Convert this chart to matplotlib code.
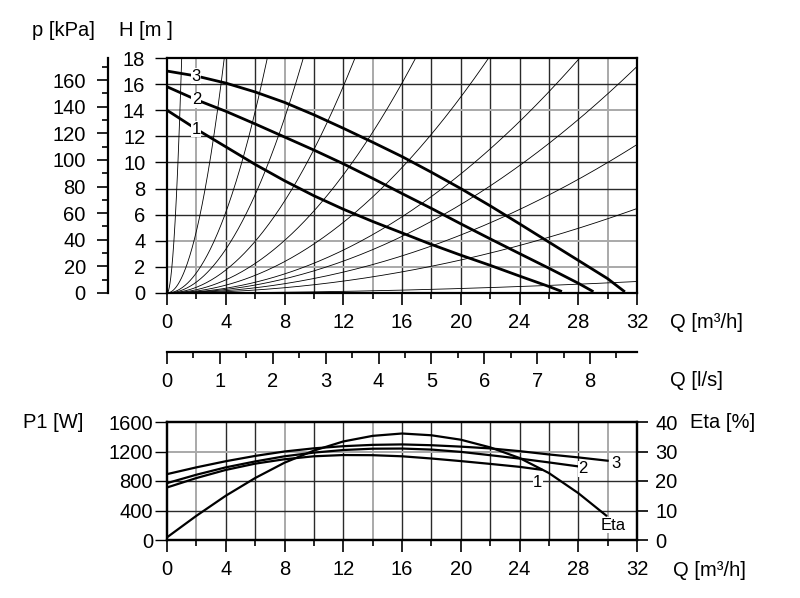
import matplotlib
matplotlib.use("Agg")
import matplotlib.pyplot as plt
from matplotlib.ticker import MultipleLocator
import numpy as np

plt.rcParams['font.family'] = ['Liberation Sans', 'DejaVu Sans']
plt.rcParams['font.size'] = 14.5

# pump curves H [m] over Q [m3/h], speeds 1, 2, 3
q1 = [0, 2, 4, 6, 8, 10, 12, 14, 16, 18, 20, 22, 24, 26, 26.8]
h1 = [14.0, 12.55, 11.2, 9.85, 8.6, 7.45, 6.42, 5.48, 4.6, 3.72, 2.9, 2.12, 1.3, 0.5, 0.15]
q2 = [0, 2, 4, 6, 8, 10, 12, 14, 16, 18, 20, 22, 24, 26, 28, 28.95]
h2 = [15.8, 14.8, 13.92, 12.95, 11.95, 10.95, 9.9, 8.78, 7.62, 6.48, 5.3, 4.15, 3.02, 1.9, 0.75, 0.15]
q3 = [0, 2, 4, 6, 8, 10, 12, 14, 16, 18, 20, 22, 24, 26, 28, 30, 31.1]
h3 = [17.0, 16.62, 16.08, 15.4, 14.6, 13.65, 12.62, 11.55, 10.45, 9.25, 8.0, 6.68, 5.3, 3.9, 2.5, 1.1, 0.15]

# system parabolas through the origin, given by where they leave the frame
sys_q_end = [1.0, 3.9, 6.83, 9.28, 12.8, 16.93, 21.9, 28.1, 32, 32, 32, 32]
sys_h_end = [18, 18, 18, 18, 18, 18, 18, 18, 17.35, 11.37, 6.47, 0.88]

# power input P1 [W]
pq1 = [0, 2, 4, 6, 8, 10, 12, 14, 16, 18, 20, 22, 24, 25.5]
p1 = [712, 840, 950, 1035, 1095, 1135, 1152, 1150, 1135, 1105, 1070, 1032, 992, 952]
pq2 = [0, 2, 4, 6, 8, 10, 12, 14, 16, 18, 20, 22, 24, 26, 28]
p2 = [771, 885, 985, 1065, 1135, 1185, 1220, 1238, 1240, 1226, 1195, 1150, 1104, 1052, 998]
pq3 = [0, 2, 4, 6, 8, 10, 12, 14, 16, 18, 20, 22, 24, 26, 28, 30]
p3 = [893, 985, 1068, 1140, 1200, 1243, 1272, 1290, 1296, 1285, 1266, 1242, 1205, 1160, 1120, 1075]

# efficiency Eta [%]
eq = [0, 2, 4, 6, 8, 10, 12, 14, 16, 18, 20, 22, 24, 26, 28, 29.9]
eta = [0.9, 8.2, 15.0, 21.0, 26.2, 30.3, 33.4, 35.3, 36.1, 35.5, 34.0, 31.4, 27.8, 22.7, 15.9, 8.3]

light_v = [2, 8, 14, 30]
light_h_top = [2, 4, 14]
light_h_bot = [1200]

W, H = 800, 598
def box(l, t, r, b):
    return [l / W, 1 - b / H, (r - l) / W, (b - t) / H]

dark = '#2a2a2a'
light = '#a9a9a9'

fig = plt.figure(figsize=(8, 5.98), dpi=100)

# ---- top panel: H-Q
ax = fig.add_axes(box(167, 58, 637, 293))
ax.set_xlim(0, 32)
ax.set_ylim(0, 18)
for q in range(2, 32, 2):
    c = light if q in light_v else dark
    ax.axvline(q, color=c, lw=1.0 if c == dark else 1.4, zorder=1)
for h in range(2, 18, 2):
    c = light if h in light_h_top else dark
    ax.axhline(h, color=c, lw=1.0 if c == dark else 1.4, zorder=1)

for qe, he in zip(sys_q_end, sys_h_end):
    qq = np.linspace(0, qe, 200)
    ax.plot(qq, he * (qq / qe) ** 2, color='black', lw=0.6, zorder=2)

for qs, hs in [(q1, h1), (q2, h2), (q3, h3)]:
    ax.plot(qs, hs, color='black', lw=2.0, zorder=3, solid_joinstyle='round')

for lab, hv in [('1', 12.55, ), ('2', 14.8), ('3', 16.62)]:
    ax.text(2, hv, lab, ha='center', va='center', fontsize=12, zorder=4,
            bbox=dict(facecolor='white', edgecolor='none', pad=0.3))

ax.xaxis.set_major_locator(MultipleLocator(4))
ax.xaxis.set_minor_locator(MultipleLocator(2))
ax.yaxis.set_major_locator(MultipleLocator(2))
ax.tick_params(axis='x', which='major', length=8.6, width=1.2, pad=6)
ax.tick_params(axis='x', which='minor', length=4.3, width=1.2)
ax.tick_params(axis='y', which='major', length=8.6, width=1.0, pad=7)
for s in ax.spines.values():
    s.set_linewidth(1.6)

sec_p = ax.secondary_yaxis(-59 / 470, functions=(lambda h: h * 9.81, lambda p: p / 9.81))
sec_p.yaxis.set_major_locator(MultipleLocator(20))
sec_p.yaxis.set_minor_locator(MultipleLocator(10))
sec_p.tick_params(which='major', length=8, width=1.2, pad=8)
sec_p.tick_params(which='minor', length=4, width=1.2)
sec_p.spines['left'].set_linewidth(1.6)

sec_q = ax.secondary_xaxis(-59 / 235, functions=(lambda q: q / 3.6, lambda l: l * 3.6))
sec_q.xaxis.set_major_locator(MultipleLocator(1))
sec_q.xaxis.set_minor_locator(MultipleLocator(0.5))
sec_q.tick_params(which='major', length=8.6, width=1.2, pad=6)
sec_q.tick_params(which='minor', length=4.3, width=1.2)
sec_q.spines['bottom'].set_linewidth(1.6)

# ---- bottom panel: P1 and Eta
axb = fig.add_axes(box(167, 422, 637, 540))
axb.set_xlim(0, 32)
axb.set_ylim(0, 1600)
for q in range(2, 32, 2):
    c = light if q in light_v else dark
    axb.axvline(q, color=c, lw=1.0 if c == dark else 1.4, zorder=1)
for p in [400, 800, 1200]:
    c = light if p in light_h_bot else dark
    axb.axhline(p, color=c, lw=1.0 if c == dark else 1.4, zorder=1)

for qs, ps in [(pq1, p1), (pq2, p2), (pq3, p3)]:
    axb.plot(qs, ps, color='black', lw=1.6, zorder=3, solid_joinstyle='round')

axb.xaxis.set_major_locator(MultipleLocator(4))
axb.xaxis.set_minor_locator(MultipleLocator(2))
axb.yaxis.set_major_locator(MultipleLocator(400))
axb.tick_params(axis='x', which='major', length=8.6, width=1.2, pad=6)
axb.tick_params(axis='x', which='minor', length=4.3, width=1.2)
axb.tick_params(axis='y', which='major', length=8.6, width=1.0, pad=1.5)
for s in axb.spines.values():
    s.set_linewidth(1.6)

axe = axb.twinx()
axe.set_ylim(0, 40)
axe.plot(eq, eta, color='black', lw=1.6, zorder=3, solid_joinstyle='round')
axe.yaxis.set_major_locator(MultipleLocator(10))
axe.tick_params(axis='y', length=8, width=1.2, pad=5)
for s in axe.spines.values():
    s.set_linewidth(1.6)

for lab, qv, pv in [('1', 25.25, 786), ('2', 28.3, 963), ('3', 30.6, 1044), ('Eta', 30.4, 203)]:
    axb.text(qv, pv, lab, ha='center', va='center', fontsize=12, zorder=4,
             bbox=dict(facecolor='white', edgecolor='none', pad=0.2))

# ---- axis titles
def ftext(x, y, s, ha='left', **kw):
    fig.text(x / W, 1 - y / H, s, ha=ha, va='center', **kw)

ftext(63, 31, 'p [kPa]', ha='center')
ftext(146, 31, 'H [m ]', ha='center')
ftext(670, 322, 'Q [m³/h]')
ftext(670, 380, 'Q [l/s]')
ftext(23, 422, 'P1 [W]')
ftext(690, 422, 'Eta [%]')
ftext(673, 570, 'Q [m³/h]')

fig.savefig('out.png', dpi=100, facecolor='white')
